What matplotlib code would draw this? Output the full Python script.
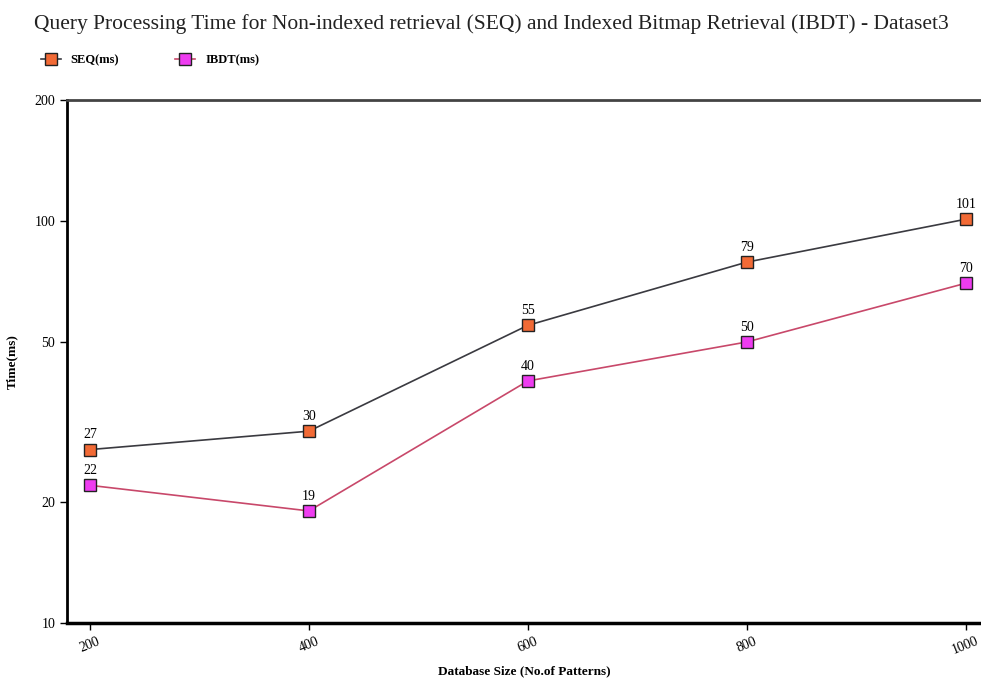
import matplotlib.pyplot as plt
from matplotlib.ticker import FixedLocator, NullLocator

plt.rcParams['font.family'] = ['Liberation Serif', 'DejaVu Serif']

# Data
db_sizes = [200, 400, 600, 800, 1000]
seq_ms = [27, 30, 55, 79, 101]
ibdt_ms = [22, 19, 40, 50, 70]
y_ticks = [10, 20, 50, 100, 200]

fig = plt.figure(figsize=(9.81, 6.81), dpi=100)
ax = fig.add_axes([0.0683, 0.0852, 0.9317, 0.768])

ax.plot(db_sizes, seq_ms, color='#3a3a40', lw=1.2, marker='s', ms=9,
        mfc='#f26a35', mec='#222222', mew=1.0, label='SEQ(ms)')
ax.plot(db_sizes, ibdt_ms, color='#c8486a', lw=1.2, marker='s', ms=9,
        mfc='#ee3cf0', mec='#222222', mew=1.0, label='IBDT(ms)')

for x, y in zip(db_sizes, seq_ms):
    ax.annotate(str(y), (x, y), xytext=(0, 6), textcoords='offset points',
                ha='center', va='bottom', fontsize=10)
for x, y in zip(db_sizes, ibdt_ms):
    ax.annotate(str(y), (x, y), xytext=(0, 6), textcoords='offset points',
                ha='center', va='bottom', fontsize=10)

ax.set_yscale('log')
ax.set_ylim(10, 200)
ax.set_xlim(179, 1014)
ax.yaxis.set_major_locator(FixedLocator(y_ticks))
ax.yaxis.set_minor_locator(NullLocator())
ax.set_yticklabels([str(v) for v in y_ticks], fontsize=10)
ax.set_xticks(db_sizes)
ax.set_xticklabels([str(v) for v in db_sizes], fontsize=10, rotation=22)

ax.spines['right'].set_visible(False)
ax.spines['left'].set_linewidth(2)
ax.spines['bottom'].set_linewidth(2.5)
ax.spines['top'].set_linewidth(2)
ax.spines['top'].set_color('#444444')
ax.tick_params(axis='both', length=5, width=1)

ax.set_xlabel('Database Size (No.of Patterns)', fontsize=9.5, fontweight='bold', labelpad=6)
ax.set_ylabel('Time(ms)', fontsize=9.5, fontweight='bold', labelpad=12)

fig.text(0.035, 0.965, 'Query Processing Time for Non-indexed retrieval (SEQ) and Indexed Bitmap Retrieval (IBDT) - Dataset3',
         fontsize=15.5, ha='left', va='center', color='#222222')
fig.legend(loc='center left', bbox_to_anchor=(0.03, 0.912), ncol=2, frameon=False,
           handlelength=1.6, columnspacing=4.5, markerscale=0.9,
           prop={'weight': 'bold', 'size': 9})

fig.savefig('out.png', dpi=100)
